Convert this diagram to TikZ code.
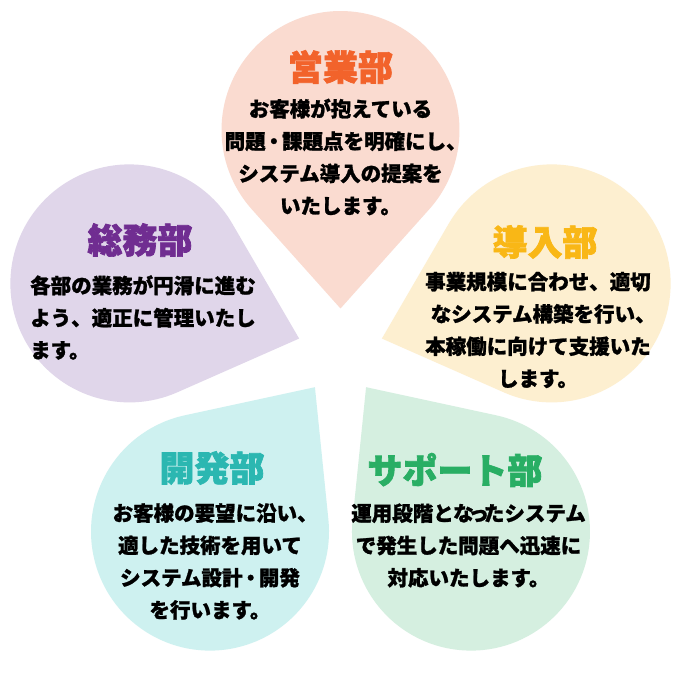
\documentclass[tikz,border=0pt]{standalone}
\usepackage{fontspec}
\setmainfont{Noto Sans CJK JP}[BoldFeatures={FakeBold=1.2}]
\newfontfamily\ttlfont{Noto Sans CJK JP}[BoldFeatures={FakeBold=2}]
\usetikzlibrary{calc}
\definecolor{pinkF}{HTML}{FADBD0}
\definecolor{purpF}{HTML}{E0D6EA}
\definecolor{yellF}{HTML}{FDEFD0}
\definecolor{cyanF}{HTML}{CEF1F0}
\definecolor{grnF}{HTML}{D5EFE0}
\definecolor{pinkT}{HTML}{F2632B}
\definecolor{purpT}{HTML}{702D91}
\definecolor{yellT}{HTML}{F9B716}
\definecolor{cyanT}{HTML}{2BB7B1}
\definecolor{grnT}{HTML}{29AE64}
\newcommand\drawpetal[2]{%
  \begin{scope}[shift={(340.5,329)}, rotate=#1]
    \fill[#2] (43.5,0) -- ($(222,0)+(228.19:119)$)
      arc[start angle=228.19, end angle=491.81, radius=119] -- cycle;
  \end{scope}}
\tikzset{
  ttl/.style={font=\ttlfont\fontsize{35}{40}\selectfont\bfseries, inner sep=0pt},
  body/.style={font=\fontsize{20.5}{32.3}\selectfont\bfseries, inner sep=0pt, text=black},
}
\begin{document}
\begin{tikzpicture}[x=1pt,y=1pt]
\useasboundingbox (0,0) rectangle (681,681);
\fill[white] (0,0) rectangle (681,681);
\drawpetal{90}{pinkF}
\drawpetal{162}{purpF}
\drawpetal{18}{yellF}
\drawpetal{234}{cyanF}
\drawpetal{306}{grnF}
% pink
\node[ttl, text=pinkT] (t1) at (340.5,614) {営業部};
\node[body, align=center] (b1) at (340.5,524) {お客様が抱えている\\
問題\makebox[.8em][c]{・}課題点を明確にし\makebox[.5em][l]{、}\\
システム導入の提案を\\
いたします。};
% purple
\node[ttl, text=purpT] (t2) at (140,441) {総務部};
\node[body, align=left, anchor=west] (b2) at (30,363.5) {各部の業務が円滑に進む\\
よう、適正に管理いたし\\
ます。};
% yellow
\node[ttl, text=yellT] (t3) at (545,439) {導入部};
\node[body, align=center] (b3) at (538,351) {事業規模に合わせ、適切\\
なシステム構築を行い\makebox[.5em][l]{、}\\
本稼働に向けて支援いた\\
します。};
% cyan
\node[ttl, text=cyanT] (t4) at (212,213) {開発部};
\node[body, align=center] (b4) at (210,119.5) {お客様の要望に沿い\makebox[.5em][l]{、}\\
適した技術を用いて\\
システム設計\makebox[.8em][c]{・}開発\\
を行います。};
% green
\node[ttl, text=grnT] (t5) at (455,211) {サポート部};
\node[body, align=center] (b5) at (468.5,135.5) {運用段階とな\makebox[.5em][c]{っ}たシステム\\
で発生した問題へ迅速に\\
対応いたします。};
\end{tikzpicture}
\end{document}
